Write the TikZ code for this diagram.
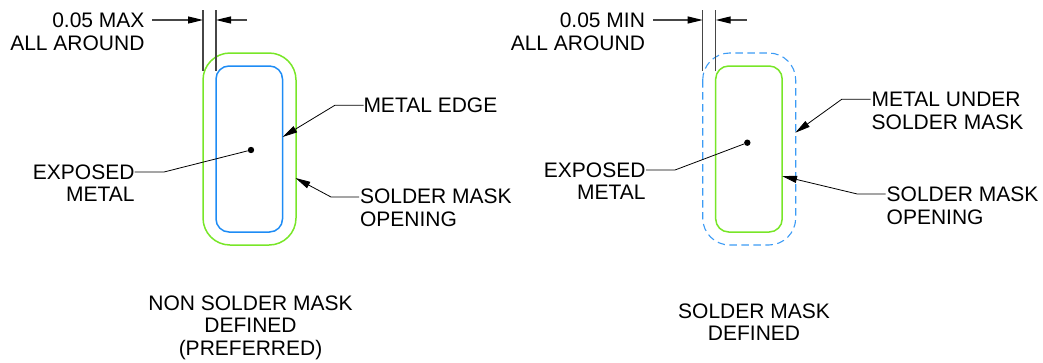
\documentclass[tikz,border=0pt]{standalone}
\usepackage{fontspec}
\setmainfont{Liberation Sans}
\usetikzlibrary{arrows.meta}
\definecolor{maskgreen}{RGB}{120,230,40}
\definecolor{metalblue}{RGB}{30,140,245}
\definecolor{dashblue}{RGB}{60,155,245}
\definecolor{extgray}{RGB}{70,70,70}
\tikzset{
  lab/.style={font=\fontsize{21}{22.6}\selectfont, inner sep=0pt, outer sep=0pt, text=black},
  labr/.style={lab, align=right, anchor=east},
  labl/.style={lab, align=left, anchor=west},
  labc/.style={lab, align=center},
  greenline/.style={draw=maskgreen, line width=1.5pt},
  blueline/.style={draw=metalblue, line width=1.5pt},
  dashline/.style={draw=dashblue, line width=1.1pt, dash pattern=on 7.5pt off 4.5pt},
  leader/.style={draw=black, line width=0.8pt},
  arrowed/.style={leader, -{Triangle[length=15pt,width=7pt]}},
  extline/.style={draw=extgray, line width=1.2pt},
  dimline/.style={draw=extgray, line width=1.2pt, -{Triangle[length=15pt,width=7pt,color=black]}},
  blackdot/.style={circle, fill=black, inner sep=0pt, minimum size=6.4pt}
}
\begin{document}
\begin{tikzpicture}[x=1pt,y=-1pt]
\useasboundingbox (0,0) rectangle (1043,362);
% ---------- left pad
\draw[greenline, rounded corners=27pt] (203,53) rectangle (296,245);
\draw[blueline, rounded corners=13pt] (216,66) rectangle (282.5,232);
\coordinate (lExtA) at (203,10); \coordinate (lExtAe) at (203,71);
\coordinate (lExtB) at (216,10); \coordinate (lExtBe) at (216,71);
\draw[extline] (lExtA) -- (lExtAe);
\draw[extline] (lExtB) -- (lExtBe);
\coordinate (lDimA) at (152,20); \coordinate (lDimAe) at (203,20);
\coordinate (lDimB) at (247,20); \coordinate (lDimBe) at (216,20);
\draw[dimline] (lDimA) -- (lDimAe);
\draw[dimline] (lDimB) -- (lDimBe);
\node[labr] (lMax) at (144.5,31.8) {0.05 MAX\\ALL AROUND};
\node[labr] (lExp) at (134.5,183) {EXPOSED\\METAL};
\node[labl] (lEdge) at (363.5,105.2) {METAL EDGE};
\node[labl] (lOpen) at (360,207.9) {SOLDER MASK\\OPENING};
\node[blackdot] (lDot) at (251,150) {};
\coordinate (lExpS) at (134.5,172);
\coordinate (lEdgeEnd) at (282.5,137);
\coordinate (lOpenS) at (359,197);
\coordinate (lOpenEnd) at (295.5,178);
\draw[leader] (lExpS) -- (164,172) -- (lDot);
\draw[arrowed] (lEdge.west) -- (335,105.2) -- (lEdgeEnd);
\draw[arrowed] (lOpenS) -- (331,197) -- (lOpenEnd);
\node[labc] (lCap) at (250.5,327.5) {NON SOLDER MASK\\DEFINED\\(PREFERRED)};
% ---------- right pad
\draw[dashline, rounded corners=27pt] (702.7,53) rectangle (795.7,245);
\draw[greenline, rounded corners=13pt] (715.7,66) rectangle (782.2,232);
\coordinate (rExtA) at (702.7,10); \coordinate (rExtAe) at (702.7,71);
\coordinate (rExtB) at (715.7,10); \coordinate (rExtBe) at (715.7,71);
\draw[extline] (rExtA) -- (rExtAe);
\draw[extline] (rExtB) -- (rExtBe);
\coordinate (rDimA) at (653.3,20); \coordinate (rDimAe) at (702.7,20);
\coordinate (rDimB) at (746.7,20); \coordinate (rDimBe) at (715.7,20);
\draw[dimline] (rDimA) -- (rDimAe);
\draw[dimline] (rDimB) -- (rDimBe);
\node[labr] (rMin) at (645,31.8) {0.05 MIN\\ALL AROUND};
\node[labr] (rExp) at (645.5,181) {EXPOSED\\METAL};
\node[labl] (rUnder) at (871.7,110.8) {METAL UNDER\\SOLDER MASK};
\node[labl] (rOpen) at (886.7,205.5) {SOLDER MASK\\OPENING};
\node[blackdot] (rDot) at (747.3,142.7) {};
\coordinate (rExpS) at (646,170);
\coordinate (rUnderS) at (870.5,99.3);
\coordinate (rUnderEnd) at (795.3,132.7);
\coordinate (rOpenS) at (885.5,194);
\coordinate (rOpenEnd) at (782,176);
\draw[leader] (rExpS) -- (675,170) -- (rDot);
\draw[arrowed] (rUnderS) -- (841.7,99.3) -- (rUnderEnd);
\draw[arrowed] (rOpenS) -- (857.3,194) -- (rOpenEnd);
\node[labc] (rCap) at (754,322) {SOLDER MASK\\DEFINED};
\end{tikzpicture}
\end{document}
